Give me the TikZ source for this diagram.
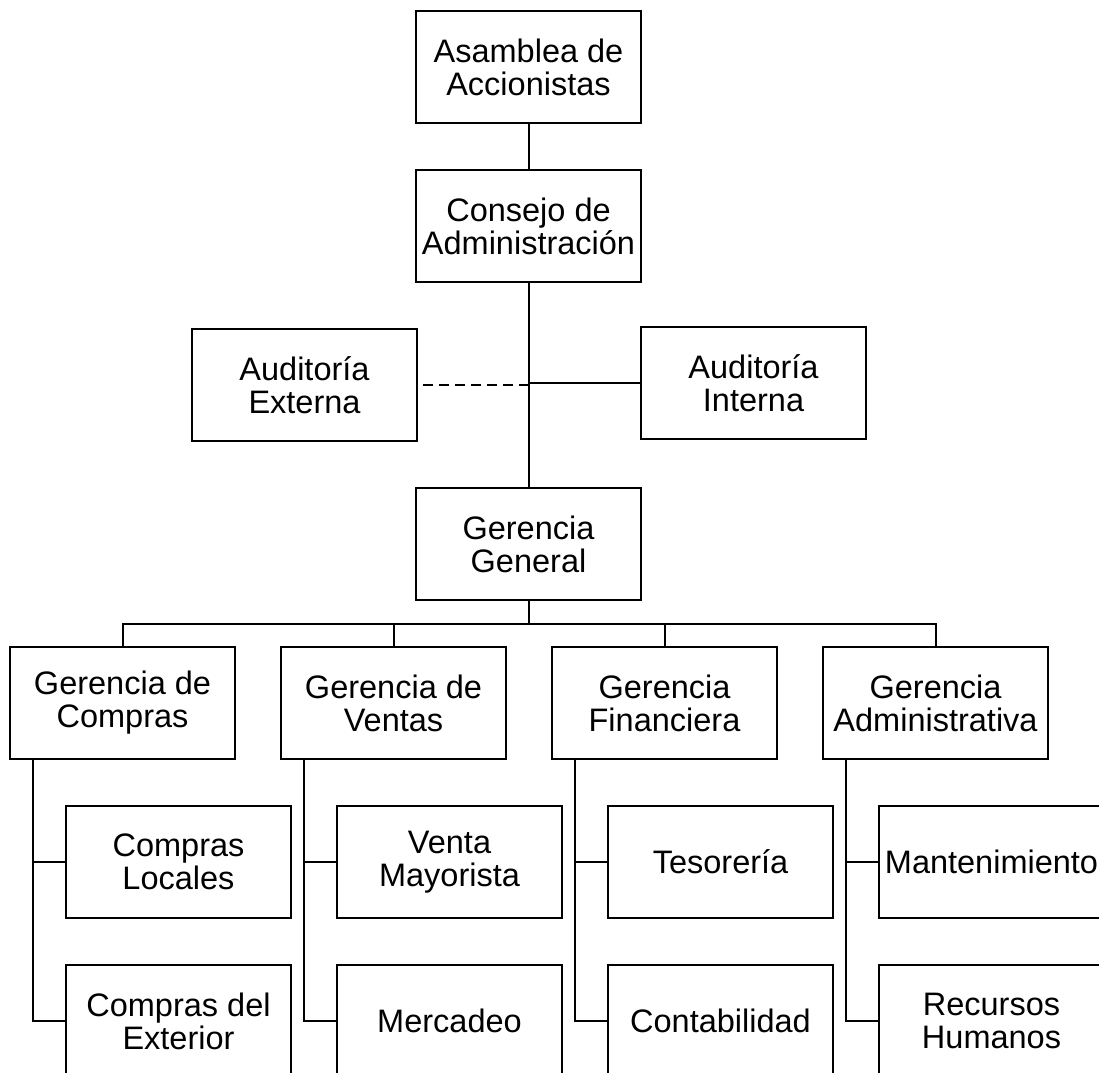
\documentclass[tikz,border=0pt]{standalone}
\usepackage{fontspec}
\setmainfont{Liberation Sans}
\usetikzlibrary{positioning}

\begin{document}
\begin{tikzpicture}[x=1pt, y=1pt,
                box/.style={rectangle, draw=black, line width=2.6pt,
                            minimum width=225pt, minimum height=112pt,
                            inner sep=0pt, outer sep=0pt, align=center,
                            font=\fontsize{32.5}{33}\selectfont},
                link/.style={draw=black, line width=2pt},
                dashlink/.style={link, dash pattern=on 10pt off 6pt}
            ]
                \useasboundingbox (0,0) rectangle (1099,-1072);
                \clip (0,0) rectangle (1099,-1072);

                % top of the chart
                \node[box] (asamblea) at (528.5,-67) {Asamblea de\\Accionistas};
                \node[box, below=47pt of asamblea] (consejo) {Consejo de\\Administración};
                \node[box, below=206pt of consejo] (general) {Gerencia\\General};
                \node[box] (audext) at (304.5,-385) {Auditoría\\Externa};
                \node[box] (audint) at (753.5,-383) {Auditoría\\Interna};

                % managements
                \node[box] (compras) at (122.5,-703) {Gerencia de\\Compras};
                \node[box, right=46pt of compras] (ventas) {Gerencia de\\Ventas};
                \node[box, right=46pt of ventas] (financ) {Gerencia\\Financiera};
                \node[box, right=46pt of financ] (admin) {Gerencia\\Administrativa};

                % departments
                \node[box, below=47pt of compras, xshift=56pt] (locales) {Compras\\Locales};
                \node[box, below=47pt of locales] (exterior) {Compras del\\Exterior};
                \node[box, below=47pt of ventas, xshift=56pt] (mayorista) {Venta\\Mayorista};
                \node[box, below=47pt of mayorista] (mercadeo) {Mercadeo};
                \node[box, below=47pt of financ, xshift=56pt] (tesoreria) {Tesorería};
                \node[box, below=47pt of tesoreria] (contab) {Contabilidad};
                \node[box, below=47pt of admin, xshift=56pt] (manten) {Mantenimiento};
                \node[box, below=47pt of manten] (rrhh) {Recursos\\Humanos};

                \draw[link] (asamblea) -- (consejo);
                \draw[link] (consejo) -- (general);
                \coordinate (audjoin) at (consejo.south |- audint.west);
                \draw[link] (audjoin) -- (audint.west);
                \draw[dashlink] (audjoin |- audext.east) -- (audext.east);

                \draw[link] (general.south) -- ++(0,-24) coordinate (bus);
                \draw[link] (compras.north) |- (bus) -| (admin.north);
                \foreach \g in {ventas, financ}
                    \draw[link] (\g.north) -- (\g.north |- bus);

                \foreach \p/\a/\b in {compras/locales/exterior, ventas/mayorista/mercadeo,
                                      financ/tesoreria/contab, admin/manten/rrhh} {
                    \draw[link] ([xshift=23pt]\p.south west) coordinate (\p-sp) |- (\b.west);
                    \draw[link] (\p-sp |- \a.west) -- (\a.west);
                }
            \end{tikzpicture}
\end{document}
